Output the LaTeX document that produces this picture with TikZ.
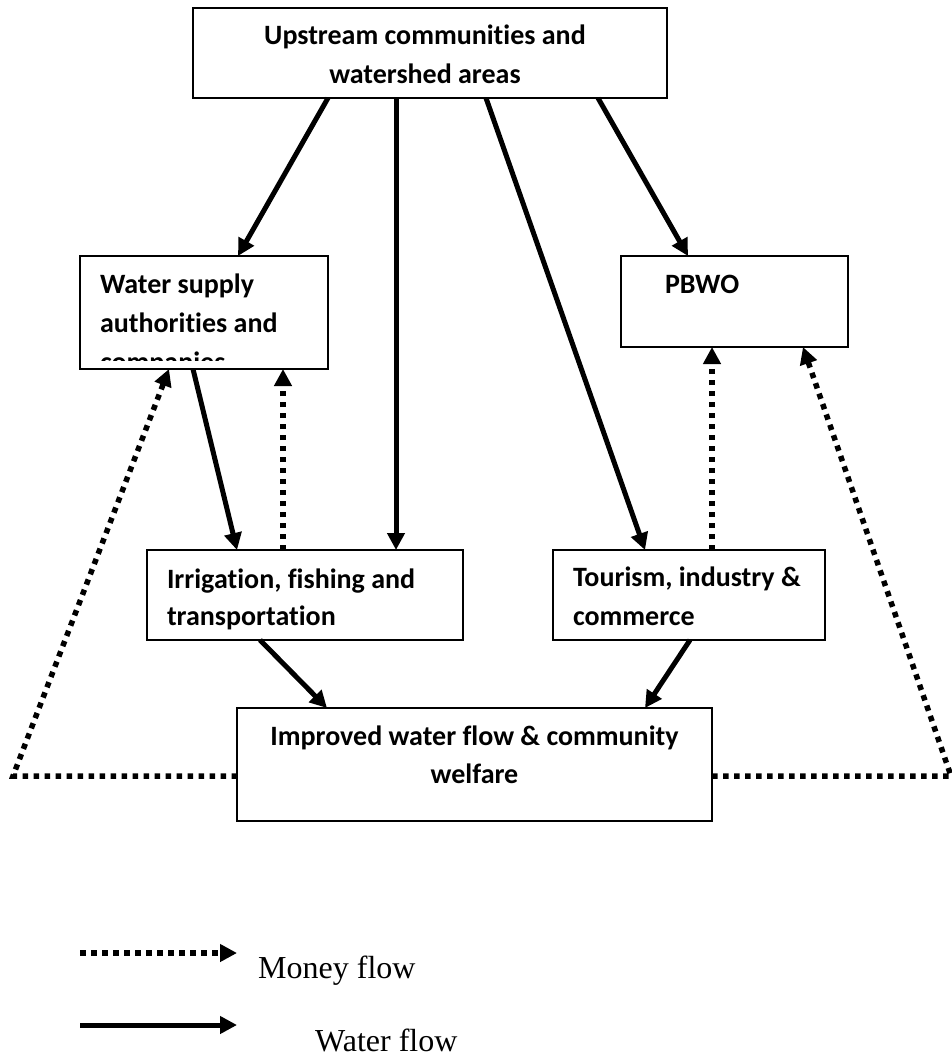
\documentclass[tikz,border=0pt]{standalone}
\usepackage{fontspec}
\setmainfont{Carlito}[Ligatures={NoCommon}]
\newfontfamily\legendfont{Liberation Serif}
\usetikzlibrary{arrows.meta}
\tikzset{
  box/.style={draw, line width=2pt, outer sep=0pt, inner sep=0pt},
  lbl/.style={font=\fontsize{28}{38}\selectfont\bfseries, inner sep=0pt, outer sep=0pt},
  water/.style={line width=5pt, -{Triangle[length=17pt,width=17pt]}},
  money/.style={line width=5.5pt, dash pattern=on 5.5pt off 5.5pt, -{Triangle[length=17pt,width=17pt]}},
  legtext/.style={font=\legendfont\fontsize{32}{38}\selectfont, inner sep=0pt, anchor=base west},
}
\begin{document}
\begin{tikzpicture}[x=1pt,y=-1pt]
\useasboundingbox (0,0) rectangle (952,1057);
% boxes
\node[box, minimum width=474pt, minimum height=90pt] (top) at (430,53) {};
\node[box, minimum width=248pt, minimum height=113pt] (ws) at (204,312.5) {};
\node[box, minimum width=227pt, minimum height=91pt] (pbwo) at (734.5,301.5) {};
\node[box, minimum width=316pt, minimum height=90pt] (irr) at (305,595) {};
\node[box, minimum width=272pt, minimum height=90pt] (tour) at (689,595) {};
\node[box, minimum width=475pt, minimum height=113pt] (imp) at (474.5,764.5) {};
% texts
\node[lbl, anchor=base] (t1) at (425,45) {Upstream communities and};
\node[lbl, anchor=base] (t2) at (425,84) {watershed areas};
\node[lbl, anchor=base west] (w1) at (100,293) {Water supply};
\node[lbl, anchor=base west] (w2) at (100,332) {authorities and};
\begin{scope}
  \clip (ws.north west) rectangle ([yshift=9pt]ws.south east);
  \node[lbl, anchor=base west] (w3) at (100,371) {companies};
\end{scope}
\node[lbl, anchor=base west] (p1) at (665,293) {PBWO};
\node[lbl, anchor=base west] (i1) at (167,588) {Irrigation, fishing and};
\node[lbl, anchor=base west] (i2) at (167,625) {transportation};
\node[lbl, anchor=base west] (o1) at (573,586) {Tourism, industry \&};
\node[lbl, anchor=base west] (o2) at (573,625) {commerce};
\node[lbl, anchor=base] (m1) at (474.5,745) {Improved water flow \& community};
\node[lbl, anchor=base] (m2) at (474.5,783) {welfare};
% water flows
\draw[water] ([xshift=135pt]top.south west) -- ([xshift=158pt]ws.north west);
\draw[water] ([xshift=203pt]top.south west) -- ([xshift=249pt]irr.north west);
\draw[water] ([xshift=293pt]top.south west) -- ([xshift=92pt]tour.north west);
\draw[water] ([xshift=405pt]top.south west) -- ([xshift=67pt]pbwo.north west);
\draw[water] ([xshift=113pt]ws.south west) -- ([xshift=90pt]irr.north west);
\draw[water] ([xshift=113pt]irr.south west) -- ([xshift=90pt]imp.north west);
\draw[water] ([xshift=137pt]tour.south west) -- ([xshift=408pt]imp.north west);
% money flows
\draw[money] ([xshift=136pt]irr.north west) -- ([xshift=203pt]ws.south west);
\draw[money] ([xshift=159pt]tour.north west) -- ([xshift=91pt]pbwo.south west);
\coordinate (cL) at (13,776);
\coordinate (cR) at (951,776);
\draw[money] ([yshift=-11.5pt]imp.west) -- (cL) -- ([xshift=89pt]ws.south west);
\draw[money] ([yshift=-11.5pt]imp.east) -- (cR) -- ([xshift=182pt]pbwo.south west);
% legend
\coordinate (la) at (80,953);
\coordinate (lb) at (237,953);
\coordinate (lc) at (80,1025);
\coordinate (ld) at (237,1025);
\draw[money] (la) -- (lb);
\draw[water] (lc) -- (ld);
\node[legtext] (lg1) at (258,978) {Money flow};
\node[legtext] (lg2) at (315,1051) {Water flow};
\end{tikzpicture}
\end{document}
